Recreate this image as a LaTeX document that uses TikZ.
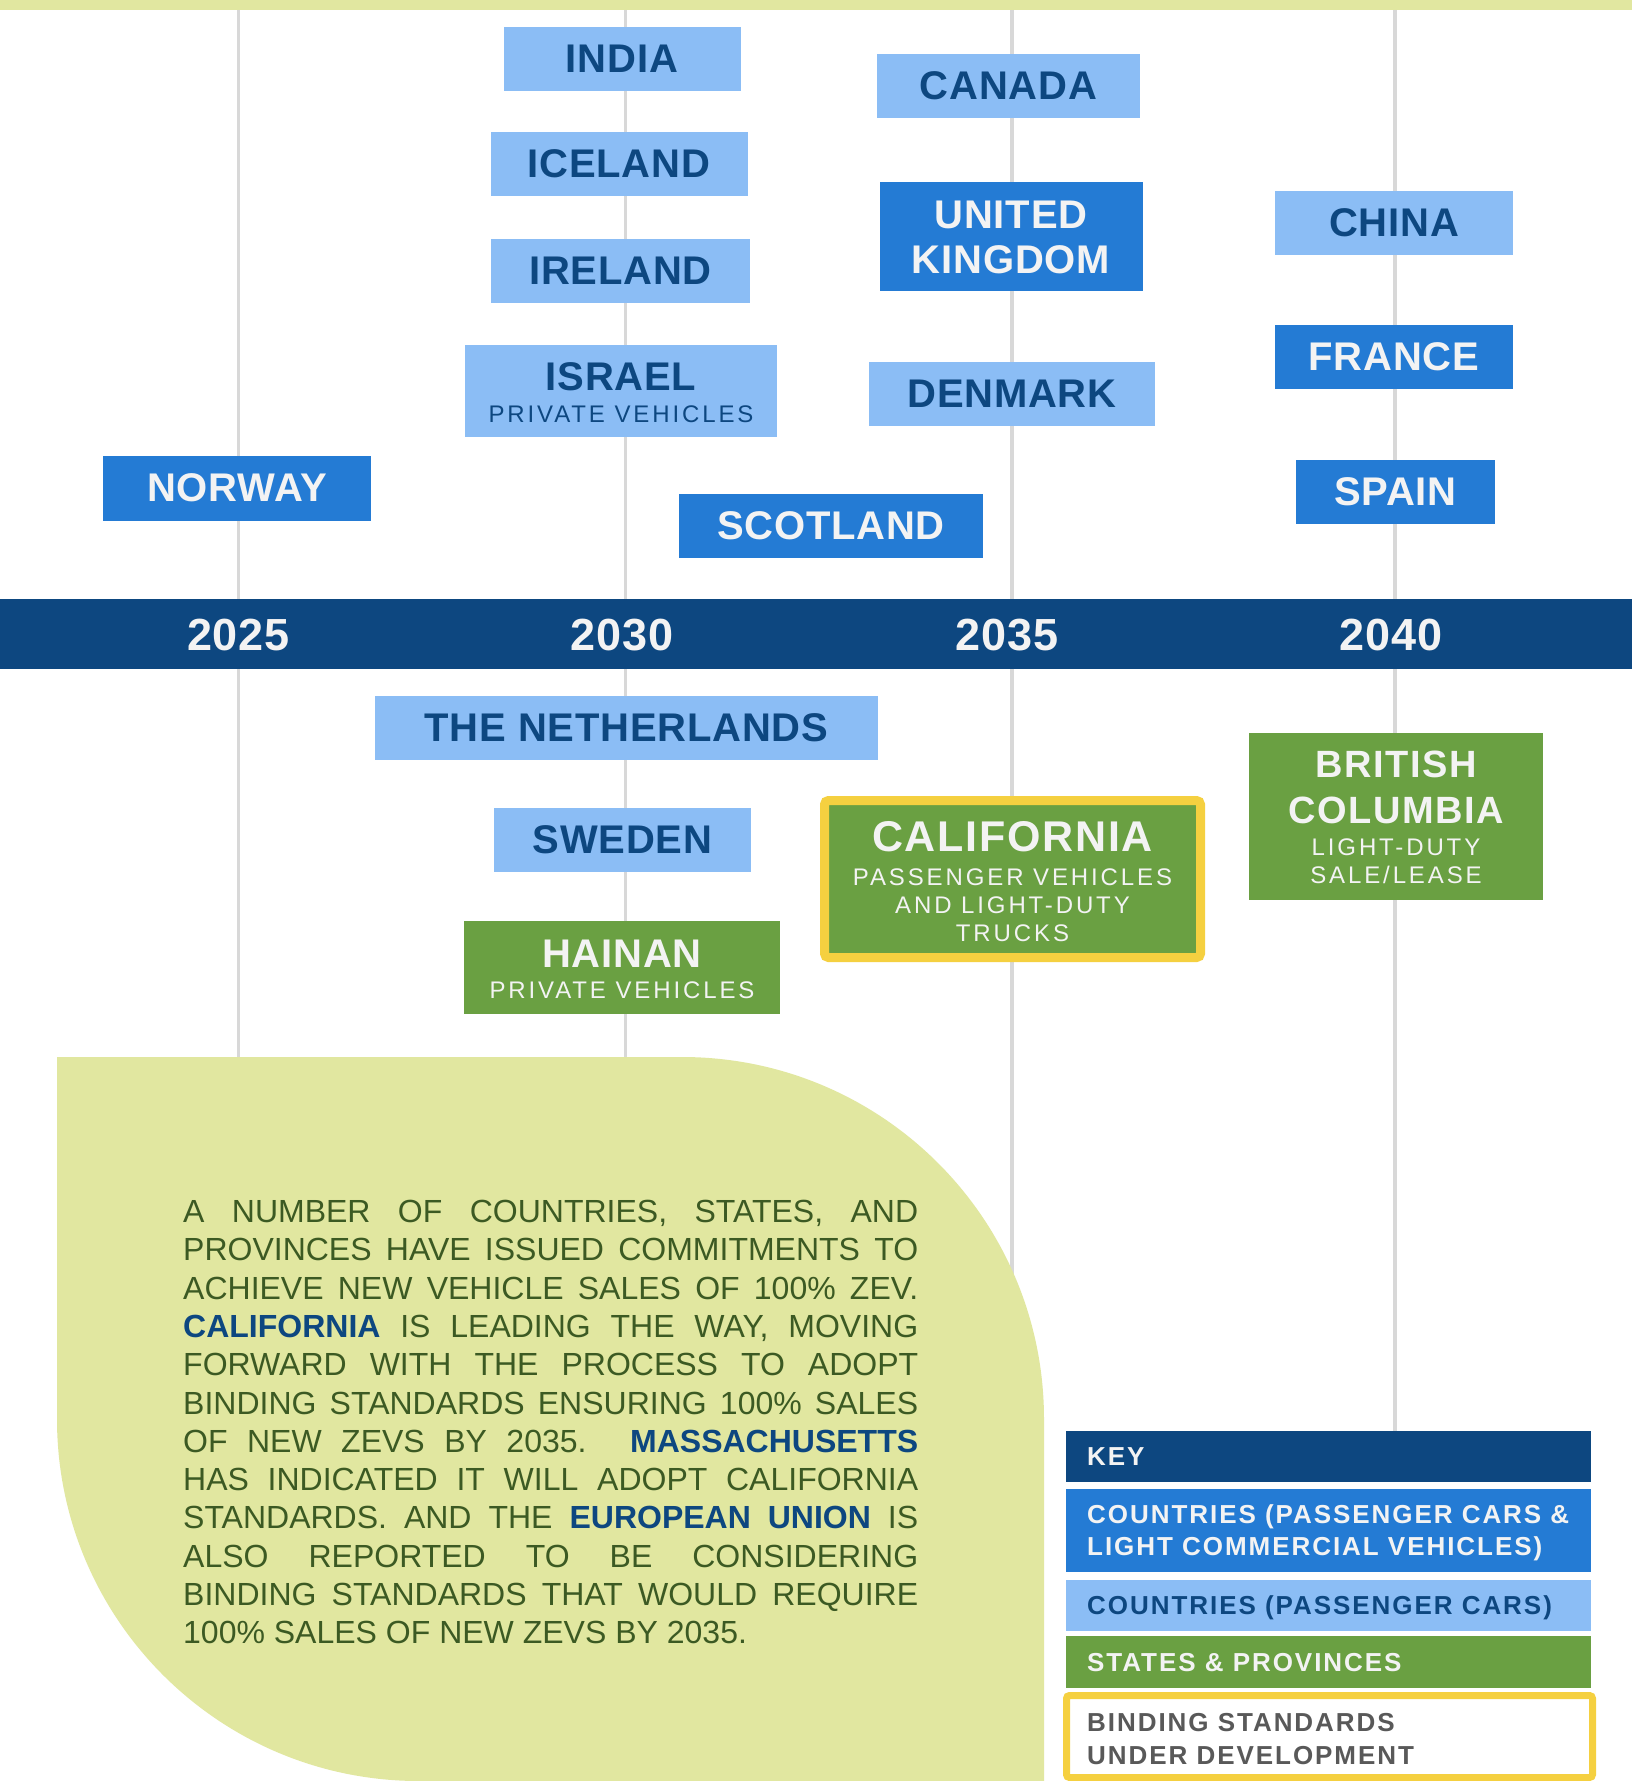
\documentclass[tikz,border=0pt]{standalone}
\usepackage{fontspec}
\setmainfont{Liberation Sans}
\newfontfamily\sublbl[LetterSpace=12]{Liberation Sans}
\newfontfamily\keyf[LetterSpace=7.5]{Liberation Sans}
\newfontfamily\titf[LetterSpace=2]{Liberation Sans}
\newfontfamily\calf[LetterSpace=4]{Liberation Sans}
\newfontfamily\yearf[LetterSpace=2]{Liberation Sans}
\definecolor{bandgreen}{RGB}{225,231,160}
\definecolor{navy}{RGB}{13,71,128}
\definecolor{midblue}{RGB}{36,123,212}
\definecolor{lightblue}{RGB}{139,189,245}
\definecolor{leaf}{RGB}{106,160,66}
\definecolor{gold}{RGB}{245,208,64}
\definecolor{gridgray}{RGB}{216,216,216}
\definecolor{offwhite}{RGB}{243,243,243}
\definecolor{bodygreen}{RGB}{60,90,35}
\definecolor{keygray}{RGB}{89,89,89}
\newcommand{\hiword}[1]{{\bfseries\color{navy}#1}}
\tikzset{
  bx/.style={rectangle, inner sep=0pt, outer sep=0pt, align=center},
  lb/.style={bx, fill=lightblue, text=navy},
  mb/.style={bx, fill=midblue, text=offwhite},
  gb/.style={bx, fill=leaf, text=offwhite},
  tl/.style={inner sep=0pt, font=\titf\bfseries\fontsize{40}{46}\selectfont, text height=27.5pt, text depth=0pt},
  sl/.style={inner sep=0pt, font=\sublbl\fontsize{24}{28}\selectfont, text height=16.5pt, text depth=0pt},
  calt/.style={inner sep=0pt, font=\calf\bfseries\fontsize{43}{50}\selectfont, text height=29.6pt, text depth=0pt},
  bct/.style={inner sep=0pt, font=\calf\bfseries\fontsize{38}{46}\selectfont, text height=26.1pt, text depth=0pt},
  yr/.style={inner sep=0pt, font=\yearf\bfseries\fontsize{45}{50}\selectfont, text height=31pt, text depth=0pt, text=offwhite},
  kt/.style={inner sep=0pt, anchor=west, font=\keyf\bfseries\fontsize{26}{32}\selectfont, text height=18pt, text depth=0pt},
  keybox/.style={bx, minimum width=525pt},
  grid/.style={draw=gridgray, line width=3.5pt}
}
\begin{document}
\begin{tikzpicture}[x=1pt,y=-1pt]
\useasboundingbox (0,0) rectangle (1632,1781);
\fill[white] (0,0) rectangle (1632,1781);
% top band
\fill[bandgreen] (0,0) rectangle (1632,9.5);
% grid lines
\coordinate (g1t) at (238.5,9.5); \coordinate (g1b) at (238.5,1200);
\coordinate (g2t) at (625.5,9.5); \coordinate (g2b) at (625.5,1200);
\coordinate (g3t) at (1012,9.5);  \coordinate (g3b) at (1012,1500);
\coordinate (g4t) at (1395,9.5);  \coordinate (g4b) at (1395,1431);
\draw[grid] (g1t) -- (g1b);
\draw[grid] (g2t) -- (g2b);
\draw[grid] (g3t) -- (g3b);
\draw[grid] (g4t) -- (g4b);
% timeline bar
\fill[navy] (0,598.5) rectangle (1632,669);
\node[yr] (y2025) at (238.5,635) {2025};
\node[yr] (y2030) at (622,635) {2030};
\node[yr] (y2035) at (1007,635) {2035};
\node[yr] (y2040) at (1391,635) {2040};
% upper boxes
\node[lb, tl, minimum width=237pt, minimum height=64pt] (india) at (622,59) {INDIA};
\node[lb, tl, minimum width=257pt, minimum height=64pt] (iceland) at (619,163.5) {ICELAND};
\node[lb, tl, minimum width=259pt, minimum height=64pt] (ireland) at (620.5,271) {IRELAND};
\node[lb, minimum width=312pt, minimum height=92pt] (israel) at (621,391) {};
\node[tl, text=navy] (israel-t) at (621,377) {ISRAEL};
\node[sl, text=navy] (israel-s) at (621,414.5) {PRIVATE VEHICLES};
\node[mb, tl, minimum width=268pt, minimum height=65pt] (norway) at (237,488) {NORWAY};
\node[mb, tl, minimum width=304pt, minimum height=64pt] (scotland) at (831,526) {SCOTLAND};
\node[lb, tl, minimum width=263pt, minimum height=64pt] (canada) at (1008.5,86) {CANADA};
\node[mb, minimum width=263pt, minimum height=109pt] (uk) at (1011,236.5) {};
\node[tl, text=offwhite] (uk-t1) at (1011,214.6) {UNITED};
\node[tl, text=offwhite] (uk-t2) at (1011,260) {KINGDOM};
\node[lb, tl, minimum width=286pt, minimum height=64pt] (denmark) at (1012,394) {DENMARK};
\node[lb, tl, minimum width=238pt, minimum height=64pt] (china) at (1394,222.5) {CHINA};
\node[mb, tl, minimum width=238pt, minimum height=64pt] (france) at (1394,356.5) {FRANCE};
\node[mb, tl, minimum width=199pt, minimum height=64pt] (spain) at (1395.5,492) {SPAIN};
% lower boxes
\node[lb, tl, minimum width=503pt, minimum height=64pt] (neth) at (626.5,728) {THE NETHERLANDS};
\node[lb, tl, minimum width=257pt, minimum height=64pt] (sweden) at (622.5,840) {SWEDEN};
\node[gb, minimum width=316pt, minimum height=93pt] (hainan) at (622,967.5) {};
\node[tl, text=offwhite] (hainan-t) at (622,954) {HAINAN};
\node[sl, text=offwhite] (hainan-s) at (622,990) {PRIVATE VEHICLES};
\node[gb, draw=gold, line width=9pt, rounded corners=4pt, minimum width=376pt, minimum height=157pt] (calif) at (1012.5,879) {};
\node[calt, text=offwhite] (calif-t) at (1012.5,837) {CALIFORNIA};
\node[sl, text=offwhite] (calif-s1) at (1012.5,877) {PASSENGER VEHICLES};
\node[sl, text=offwhite] (calif-s2) at (1012.5,905) {AND LIGHT-DUTY};
\node[sl, text=offwhite] (calif-s3) at (1012.5,933.5) {TRUCKS};
\node[gb, minimum width=294pt, minimum height=167pt] (bc) at (1396,816) {};
\node[bct, text=offwhite] (bc-t1) at (1396,764) {BRITISH};
\node[bct, text=offwhite] (bc-t2) at (1396,810) {COLUMBIA};
\node[sl, text=offwhite] (bc-s1) at (1396,847) {LIGHT-DUTY};
\node[sl, text=offwhite] (bc-s2) at (1396,875.6) {SALE/LEASE};
% blob
\fill[bandgreen] (57,1057) -- (682,1057) .. controls (882,1057) and (1044,1219) .. (1044,1419)
  -- (1044,1781) -- (419,1781) .. controls (219,1781) and (57,1619) .. (57,1419) -- cycle;
\node[anchor=north west, inner sep=0pt, align=left, text=bodygreen, font=\fontsize{32}{38.3}\selectfont] (body) at (183,1200) {%
\makebox[735pt][s]{A NUMBER OF COUNTRIES, STATES, AND}\\
\makebox[735pt][s]{PROVINCES HAVE ISSUED COMMITMENTS TO}\\
\makebox[735pt][s]{ACHIEVE NEW VEHICLE SALES OF 100\% ZEV.}\\
\makebox[735pt][s]{\hiword{CALIFORNIA} IS LEADING THE WAY, MOVING}\\
\makebox[735pt][s]{FORWARD WITH THE PROCESS TO ADOPT}\\
\makebox[735pt][s]{BINDING STANDARDS ENSURING 100\% SALES}\\
\makebox[735pt][s]{OF NEW ZEVS BY 2035. \hiword{MASSACHUSETTS}}\\
\makebox[735pt][s]{HAS INDICATED IT WILL ADOPT CALIFORNIA}\\
\makebox[735pt][s]{STANDARDS. AND THE \hiword{EUROPEAN UNION} IS}\\
\makebox[735pt][s]{ALSO REPORTED TO BE CONSIDERING}\\
\makebox[735pt][s]{BINDING STANDARDS THAT WOULD REQUIRE}\\
100\% SALES OF NEW ZEVS BY 2035.};
% key
\node[keybox, fill=navy, minimum height=51pt] (khdr) at (1328.5,1456.5) {};
\node[keybox, fill=midblue, minimum height=83pt] (kclc) at (1328.5,1530.5) {};
\node[keybox, fill=lightblue, minimum height=51pt] (kcpc) at (1328.5,1605.5) {};
\node[keybox, fill=leaf, minimum height=52pt] (ksp) at (1328.5,1662) {};
\node[bx, fill=white, draw=gold, line width=7pt, rounded corners=3pt, minimum width=526pt, minimum height=82pt] (kbind) at (1329.5,1736.5) {};
\node[kt, text=offwhite] (kt1) at (1087,1456.5) {KEY};
\node[kt, text=offwhite] (kt2a) at (1087,1514) {COUNTRIES (PASSENGER CARS \&};
\node[kt, text=offwhite] (kt2b) at (1087,1546) {LIGHT COMMERCIAL VEHICLES)};
\node[kt, text=navy] (kt3) at (1087,1605.5) {COUNTRIES (PASSENGER CARS)};
\node[kt, text=offwhite] (kt4) at (1087,1662) {STATES \& PROVINCES};
\node[kt, text=keygray] (kt5a) at (1087,1722) {BINDING STANDARDS};
\node[kt, text=keygray] (kt5b) at (1087,1755) {UNDER DEVELOPMENT};
\end{tikzpicture}
\end{document}
